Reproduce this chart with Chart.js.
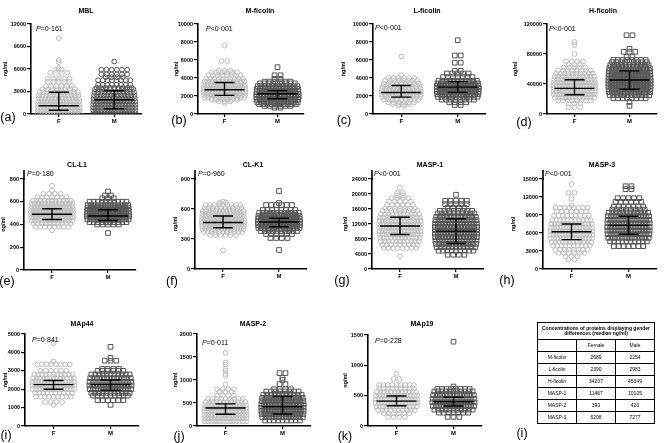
<!DOCTYPE html>
<html><head><meta charset="utf-8">
<script src="https://cdn.jsdelivr.net/npm/chart.js@4"></script>
<style>
body{margin:0;background:#fff;width:666px;height:443px;position:relative;overflow:hidden;font-family:"Liberation Sans",Arial,sans-serif;color:#000}
canvas{position:absolute}
.t,.p,.l,table{filter:grayscale(1)}
.t{position:absolute;font-weight:bold;font-size:7px;transform:translate(-50%,-50%);white-space:nowrap}
.p{position:absolute;font-size:7px;transform:translate(0,-50%);white-space:nowrap}
.l{position:absolute;font-size:12.5px;transform:translate(-50%,-50%);white-space:nowrap}
table{position:absolute;left:537px;top:322px;width:117px;border-collapse:collapse;font-size:5px;table-layout:fixed;border:1.5px solid #000;background:#fff}
td{border:1px solid #000;text-align:center;padding:0;height:11px;line-height:5px}
td.h{font-weight:bold;height:16px;padding:0 2px}
</style></head><body>
<script>
// ---------- data ----------
const categories = ['F','M'];
const panelTitles = ['MBL','M-ficolin','L-ficolin','H-ficolin','CL-L1','CL-K1','MASP-1','MASP-3','MAp44','MASP-2','MAp19'];
const panelLetters = ['(a)','(b)','(c)','(d)','(e)','(f)','(g)','(h)','(i)','(j)','(k)'];
const pTexts = ['=0·161','<0·001','<0·001','<0·001','=0·180','=0·960','<0·001','<0·001','=0·841','=0·011','=0·228'];
const yMax  = [12000,10000,10000,120000,800,900,24000,15000,5000,2000,1500];
const yStep = [3000,2000,2000,40000,200,300,4000,3000,1000,500,500];

// beeswarm rows: [value ng/ml, number of points in the row]
const mblF = [[100,16],[500,16],[900,16],[1300,15],[1700,14],[2100,13],[2500,12],[2900,11],[3300,8],[3700,6],[4300,5],[4700,5],[5500,4],[5900,2],[6100,1],[6900,1],[7200,1],[10100,1]];
const mblM = [[100,16],[500,16],[900,16],[1300,16],[1700,15],[2100,14],[2500,13],[2900,12],[3300,11],[3500,9],[3900,8],[4500,8],[4900,4],[5300,6],[5900,6],[7000,1]];
const mfcF = [[1200,1],[1400,3],[1600,6],[1800,12],[2100,14],[2400,15],[2700,15],[3000,14],[3300,13],[3600,12],[3900,10],[4300,8],[4600,6],[4800,3],[5900,2],[7600,1]];
const mfcM = [[700,2],[900,6],[1100,10],[1300,13],[1600,15],[1900,16],[2200,16],[2500,15],[2800,14],[3100,12],[3400,9],[3600,6],[3900,2],[4300,2],[5200,1]];
const lfcF = [[900,2],[1100,4],[1300,6],[1600,9],[1900,11],[2200,12],[2500,12],[2800,11],[3100,10],[3400,9],[3700,8],[4000,6],[4300,1],[6400,1]];
const lfcM = [[1000,2],[1300,4],[1600,8],[1900,12],[2200,14],[2500,15],[2800,16],[3100,15],[3400,13],[3700,11],[4100,7],[4500,5],[4800,2],[5700,2],[6500,2],[8200,1]];
const hfcF = [[9000,3],[14000,3],[18000,8],[22000,12],[26000,14],[30000,15],[34000,15],[38000,15],[42000,14],[46000,13],[50000,12],[54000,10],[58000,8],[62000,5],[66000,3],[70000,4],[80000,1],[92000,1],[96000,1]];
const hfcM = [[11000,1],[16000,1],[21000,8],[25000,12],[29000,14],[33000,15],[37000,16],[41000,16],[45000,16],[49000,15],[53000,15],[57000,14],[61000,13],[65000,11],[69000,9],[72000,8],[76000,2],[83000,3],[87000,1],[105000,2]];
const cll1F = [[350,1],[380,8],[410,10],[435,13],[460,15],[485,16],[510,16],[535,15],[560,14],[585,13],[610,11],[640,7],[670,4],[700,1],[740,1]];
const cll1M = [[325,1],[400,5],[420,10],[445,14],[470,16],[495,16],[520,15],[545,14],[570,13],[600,10],[630,3],[655,2],[690,1]];
const clk1F = [[185,1],[340,6],[370,11],[400,14],[430,15],[460,16],[490,16],[520,15],[550,14],[580,13],[610,10],[640,9],[665,2],[675,1]];
const clk1M = [[190,1],[310,4],[350,6],[380,10],[410,14],[440,15],[470,16],[500,15],[530,14],[560,12],[590,8],[640,6],[660,1],[780,1]];
const masp1F = [[3400,1],[5600,8],[6500,9],[7400,11],[8300,12],[9200,13],[10100,14],[11000,15],[11900,15],[12800,14],[13700,13],[14600,11],[15500,9],[16100,7],[17100,6],[18000,5],[18900,4],[19600,2],[20300,2],[21700,1]];
const masp1M = [[3800,4],[4900,9],[5800,11],[6700,13],[7600,14],[8500,15],[9400,16],[10300,16],[11200,16],[12100,15],[13000,14],[13900,12],[14800,10],[15500,8],[16300,4],[17300,5],[18200,5],[19800,1]];
const masp3F = [[1600,2],[2100,3],[2700,6],[3200,8],[3900,10],[4500,12],[5100,14],[5700,15],[6300,15],[6900,14],[7500,13],[8100,11],[8900,9],[9600,7],[10200,8],[10600,1],[11700,1],[12700,2],[14200,1]];
const masp3M = [[3800,7],[4600,10],[5200,13],[5800,15],[6400,16],[7000,16],[7600,16],[8200,15],[8800,14],[9400,12],[9900,8],[10400,7],[11200,6],[11800,5],[13300,2],[13800,2]];
const map44F = [[1150,1],[1300,4],[1600,9],[1800,10],[2000,14],[2200,16],[2400,15],[2600,13],[2800,11],[3000,6],[3350,8],[3500,1],[4500,1]];
const map44M = [[1150,1],[1400,6],[1650,9],[1800,11],[2000,14],[2200,16],[2400,15],[2600,13],[2800,11],[3000,6],[3100,4],[3550,3],[3700,1],[4300,1]];
const masp2F = [[100,14],[170,16],[240,16],[310,16],[380,15],[450,14],[520,12],[590,9],[660,4],[750,3],[800,4],[900,1],[1090,1],[1130,1],[1200,1],[1240,1],[1340,1],[1380,1],[1590,1]];
const masp2M = [[120,9],[190,13],[260,15],[330,16],[400,16],[470,16],[540,15],[610,13],[680,11],[750,8],[800,4],[910,2],[1000,1],[1045,1],[1150,2]];
const map19F = [[150,4],[210,6],[260,10],[320,13],[380,15],[440,15],[500,14],[560,12],[620,9],[675,9],[775,2],[860,1]];
const map19M = [[150,3],[220,7],[270,11],[330,14],[390,16],[450,15],[510,13],[570,11],[610,8],[650,1],[1390,1]];

const femaleRows = [mblF,mfcF,lfcF,hfcF,cll1F,clk1F,masp1F,masp3F,map44F,masp2F,map19F];
const maleRows   = [mblM,mfcM,lfcM,hfcM,cll1M,clk1M,masp1M,masp3M,map44M,masp2M,map19M];
// median, lower quartile, upper quartile  [F, M]
const medians = [[1100,1900],[2689,2254],[2390,2983],[34207,45349],[490,475],[465,470],[11467,10105],[6208,7277],[2250,2250],[390,420],[410,400]];
const lowerQ  = [[500,700],[2070,1700],[1880,2400],[25700,33000],[444,435],[413,423],[9200,6800],[4900,5800],[2000,1950],[255,260],[335,330]];
const upperQ  = [[2900,3100],[3500,2600],[3170,3600],[45600,57500],[539,530],[530,507],[13800,13400],[7500,8800],[2470,2500],[482,640],[495,473]];

const tableTitle = 'Concentrations of proteins displaying gender differences (median ng/ml)';
const tableCols = ['Female','Male'];
const tableProteins = ['M-ficolin','L-ficolin','H-ficolin','MASP-1','MASP-2','MASP-3'];
const tableFemale = [2689,2390,34207,11467,390,6208];
const tableMale   = [2254,2983,45349,10105,420,7277];

// ---------- layout (pixel geometry of each panel) ----------
// top = pixel of the top tick; ext = extra axis line drawn above it
const layout = [
 {ax:31, top:24, bot:114, right:143, ext:0, yl:5,   tx:86, ty:10, px:36, py:28, lx:8,  ly:117},
 {ax:198,top:24, bot:114, right:305, ext:0, yl:176, tx:260,ty:10, px:206,py:28, lx:179,ly:120},
 {ax:373,top:24, bot:114, right:487, ext:0, yl:343, tx:427,ty:10, px:375,py:27, lx:344,ly:120},
 {ax:547,top:24, bot:114, right:658, ext:0, yl:515, tx:603,ty:10, px:549,py:28, lx:524,ly:122},
 {ax:24, top:179,bot:270, right:137, ext:9, yl:3,   tx:77, ty:164,px:27, py:173,lx:7,  ly:281},
 {ax:195,top:179,bot:269, right:308, ext:9, yl:175, tx:253,ty:164,px:198,py:173,lx:172,ly:281},
 {ax:372,top:179,bot:269, right:485, ext:9, yl:345, tx:430,ty:164,px:374,py:173,lx:342,ly:280},
 {ax:543,top:179,bot:269, right:658, ext:9, yl:513, tx:602,ty:164,px:545,py:173,lx:507,ly:280},
 {ax:25, top:334,bot:426, right:140, ext:0, yl:5,   tx:82, ty:323,px:32, py:339,lx:6,  ly:435},
 {ax:197,top:334,bot:426, right:312, ext:0, yl:175, tx:253,ty:323,px:202,py:342,lx:179,ly:436},
 {ax:368,top:335,bot:426, right:483, ext:0, yl:345, tx:422,ty:323,px:375,py:340,lx:345,ly:436}
];

const colF = '#bcbcbc', colM = '#555555';
const WMAX = 44, GAP = 6;

function rowWidth(n){ return WMAX*Math.tanh((n-1)*GAP/WMAX); }
function swarm(rows, center, unitsPerPx){
  const pts = [];
  rows.forEach(([v,n])=>{
    const w = rowWidth(n), st = n>1 ? w/(n-1) : 0;
    for(let i=0;i<n;i++){ pts.push({x:center + (-w/2 + i*st)*unitsPerPx, y:v}); }
  });
  return pts;
}

const statsPlugin = {
  id:'stats',
  afterDatasetsDraw(chart, args, opts){
    const {ctx, scales:{x,y}} = chart;
    ctx.save(); ctx.strokeStyle='#000'; ctx.lineWidth=1.4;
    [0,1].forEach(g=>{
      const cx = x.getPixelForValue(g);
      const m = y.getPixelForValue(opts.med[g]), a=y.getPixelForValue(opts.lo[g]), b=y.getPixelForValue(opts.hi[g]);
      ctx.beginPath();
      ctx.moveTo(cx-20,m); ctx.lineTo(cx+20,m);
      ctx.moveTo(cx,a); ctx.lineTo(cx,b);
      ctx.moveTo(cx-10,a); ctx.lineTo(cx+10,a);
      ctx.moveTo(cx-10,b); ctx.lineTo(cx+10,b);
      ctx.stroke();
    });
    if(opts.ext>0){
      const a = chart.chartArea;
      ctx.strokeStyle='#000'; ctx.lineWidth=1.6;
      ctx.beginPath(); ctx.moveTo(a.left, a.top+1); ctx.lineTo(a.left, a.top-opts.ext); ctx.stroke();
    }
    ctx.restore();
  }
};

function addDiv(cls, html, x, y){
  const d=document.createElement('div'); d.className=cls; d.innerHTML=html;
  d.style.left=x+'px'; d.style.top=y+'px'; document.body.appendChild(d);
}

layout.forEach((L,i)=>{
  const cLeft = L.yl-3, padTop=6+L.ext, xH=14, padR=4;
  const yW = L.ax - cLeft;
  const w = L.right - cLeft + padR, h = (L.bot - L.top) + padTop + xH;
  const cv = document.createElement('canvas');
  cv.width=w; cv.height=h; cv.style.left=cLeft+'px'; cv.style.top=(L.top-padTop)+'px';
  cv.style.width=w+'px'; cv.style.height=h+'px';
  document.body.appendChild(cv);
  const upp = 2/(L.right-L.ax);
  const mStyle = i===0 ? 'circle' : 'rect';
  new Chart(cv,{
    type:'scatter',
    data:{datasets:[
      {data:swarm(femaleRows[i],0,upp), pointStyle:'circle', pointRadius:2.4, borderColor:colF, backgroundColor:'rgba(0,0,0,0)', borderWidth:1},
      {data:swarm(maleRows[i],1,upp), pointStyle:mStyle, pointRadius: i===0?2.4:3.3, borderColor:colM, backgroundColor:'rgba(0,0,0,0)', borderWidth:1}
    ]},
    options:{
      responsive:false, animation:false, events:[], devicePixelRatio:1,
      layout:{padding:{top:padTop,right:padR,left:0,bottom:0}},
      plugins:{legend:{display:false},tooltip:{enabled:false},
        stats:{med:medians[i],lo:lowerQ[i],hi:upperQ[i],ext:L.ext}},
      scales:{
        x:{type:'linear',min:-0.5,max:1.5,
          afterBuildTicks:s=>{s.ticks=[{value:0},{value:1}];},
          afterFit:s=>{s.height=xH;},
          ticks:{callback:v=>categories[v], font:{size:6,weight:'bold',family:'Liberation Sans'}, color:'#000', padding:1, maxRotation:0},
          grid:{drawOnChartArea:false, drawTicks:true, tickLength:3, color:'#000', lineWidth:1.2},
          border:{color:'#000', width:1.6}},
        y:{type:'linear',min:0,max:yMax[i],
          afterBuildTicks:s=>{const t=[];for(let v=0;v<=yMax[i];v+=yStep[i])t.push({value:v});s.ticks=t;},
          afterFit:s=>{s.width=yW;},
          ticks:{callback:v=>String(v), font:{size:5.5,weight:'bold',family:'Liberation Sans'}, color:'#000', padding:1},
          grid:{drawOnChartArea:false, drawTicks:true, tickLength:4, color:'#000', lineWidth:1.2},
          border:{color:'#000', width:1.6},
          title:{display:true,text:'ng/ml',font:{size:5.5,weight:'bold',family:'Liberation Sans'},color:'#000',padding:0}}
      }
    },
    plugins:[statsPlugin]
  });
  addDiv('t', panelTitles[i], L.tx, L.ty);
  addDiv('p', '<i>P</i>'+pTexts[i], L.px, L.py);
  addDiv('l', panelLetters[i], L.lx, L.ly);
});

// table
const tb=document.createElement('table');
let html='<colgroup><col style="width:39px"><col style="width:39px"><col style="width:39px"></colgroup>';
html+='<tr><td class="h" colspan="3">'+tableTitle+'</td></tr>';
html+='<tr><td></td><td>'+tableCols[0]+'</td><td>'+tableCols[1]+'</td></tr>';
tableProteins.forEach((p,k)=>{html+='<tr><td>'+p+'</td><td>'+tableFemale[k]+'</td><td>'+tableMale[k]+'</td></tr>';});
tb.innerHTML=html; document.body.appendChild(tb);
addDiv('l','(i)',522,433);
</script>
</body></html>
